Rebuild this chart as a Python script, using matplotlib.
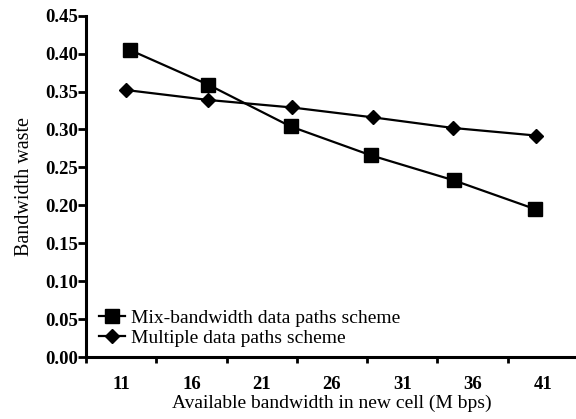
import matplotlib
matplotlib.use("Agg")
import matplotlib.pyplot as plt
from matplotlib.ticker import FixedLocator, NullFormatter

x_mix = [11.6, 17.2, 23.05, 28.75, 34.65, 40.45]
y_mix = [0.405, 0.359, 0.304, 0.266, 0.233, 0.195]
x_multi = [11.35, 17.15, 23.15, 28.9, 34.6, 40.5]
y_multi = [0.352, 0.339, 0.329, 0.316, 0.302, 0.292]
x_labels = [11, 16, 21, 26, 31, 36, 41]
y_ticks = [0.00, 0.05, 0.10, 0.15, 0.20, 0.25, 0.30, 0.35, 0.40, 0.45]
series_names = ["Mix-bandwidth data paths scheme", "Multiple data paths scheme"]

plt.rcParams['font.family'] = ['Liberation Serif', 'DejaVu Serif']

fig = plt.figure(figsize=(5.76, 4.19), dpi=100)
ax = fig.add_axes([86/576, 62/419, 492/576, (357-15.7)/419])

ax.plot(x_mix, y_mix, color='black', lw=1.6, marker='s', ms=9.5, label=series_names[0])
ax.plot(x_multi, y_multi, color='black', lw=1.6, marker='D', ms=7.2, label=series_names[1])

ax.set_xlim(8.5, 43.5)
ax.set_ylim(0, 0.45)
ax.set_yticks(y_ticks)
ax.set_yticklabels([f"{v:.2f}" for v in y_ticks], fontsize=13.5, fontweight='bold')

# category-style x axis: labels centred, ticks at boundaries
ax.set_xticks(x_labels)
ax.set_xticklabels([str(v) for v in x_labels], fontsize=13.5, fontweight='bold')
ax.tick_params(axis='x', which='major', length=0, pad=14)
ax.xaxis.set_minor_locator(FixedLocator([v - 2.5 for v in x_labels] + [43.5]))
ax.xaxis.set_minor_formatter(NullFormatter())
ax.tick_params(axis='x', which='minor', length=4.5, width=2, direction='out')
ax.tick_params(axis='y', length=5.5, width=2, direction='out', pad=0.5)

for s in ['top', 'right']:
    ax.spines[s].set_visible(False)
for s in ['left', 'bottom']:
    ax.spines[s].set_linewidth(2.2)

ax.set_xlabel("Available bandwidth in new cell (M bps)", fontsize=14, labelpad=1)
ax.set_ylabel("Bandwidth waste", fontsize=14.5, labelpad=8)

leg = ax.legend(loc='lower left', bbox_to_anchor=(0.026, 0.03), frameon=False,
                fontsize=14, handlelength=1.35, handletextpad=0.3,
                labelspacing=0.12, borderaxespad=0.0, borderpad=0.0)

fig.savefig("out.png", dpi=100)
